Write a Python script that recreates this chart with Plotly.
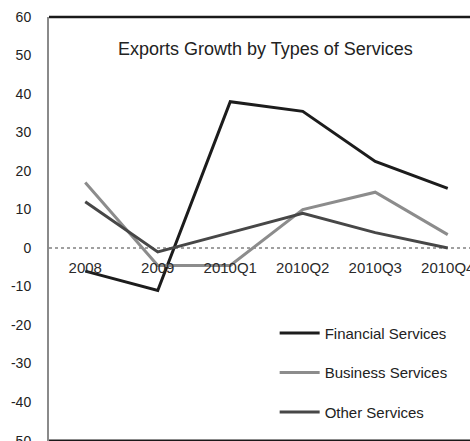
import plotly.graph_objects as go

# Period labels and growth rates (%) per service type
periods = ["2008", "2009", "2010Q1", "2010Q2", "2010Q3", "2010Q4"]
financial = [-6, -11, 38, 35.5, 22.5, 15.5]
business = [17, -4.5, -4.5, 10, 14.5, 3.5]
other = [12, -1, 4, 9, 4, 0]

y_ticks = [60, 50, 40, 30, 20, 10, 0, -10, -20, -30, -40, -50]
y_tick_text = [str(v) for v in y_ticks]  # plain hyphen for negatives
y_min, y_max = -50.1, 60

fig = go.Figure()
series = [
    ("Financial Services", financial, "#1c1c1c"),
    ("Business Services", business, "#8c8c8c"),
    ("Other Services", other, "#474747"),
]
for i, (name, vals, col) in enumerate(series):
    fig.add_trace(go.Scatter(
        x=periods, y=vals, name=name, mode="lines",
        line=dict(color=col, width=3),
        legendgroup=f"g{i}",
    ))

zero_frac = (0 - y_min) / (y_max - y_min)

fig.update_layout(
    width=470, height=441,
    margin=dict(l=49, r=0, t=17, b=0, autoexpand=False),
    paper_bgcolor="white", plot_bgcolor="white",
    font=dict(family="Liberation Sans, Arial, sans-serif", color="#2a2a2a"),
    showlegend=True,
    legend=dict(
        x=0.536, y=0.293, xanchor="left", yanchor="top",
        bgcolor="rgba(0,0,0,0)", font=dict(size=15, color="#222"),
        tracegroupgap=17, itemwidth=40,
    ),
    xaxis=dict(
        type="category", range=[-0.5, 5.307], automargin=False,
        anchor="free", position=zero_frac,
        showline=False, showgrid=False, zeroline=False,
        ticks="", ticklabelstandoff=9,
        tickfont=dict(size=15, color="#2a2a2a"),
    ),
    yaxis=dict(
        range=[y_min, y_max], tickvals=y_ticks, ticktext=y_tick_text,
        automargin=False,
        showgrid=False, zeroline=False,
        showline=True, linecolor="#8a8a8a", linewidth=2,
        ticks="", ticklabelstandoff=13, ticklabeloverflow="allow",
        tickfont=dict(size=14, color="#222"),
    ),
    annotations=[dict(
        text="Exports Growth by Types of Services",
        xref="paper", yref="paper", x=0.515, y=0.925,
        xanchor="center", yanchor="middle", showarrow=False,
        font=dict(size=18, color="#222"),
    )],
    shapes=[
        # zero reference line
        dict(type="line", xref="paper", yref="y", x0=0, x1=1, y0=0, y1=0,
             line=dict(color="#a0a0a0", width=2, dash="dot"), layer="below"),
        # top and bottom frame lines
        dict(type="line", xref="paper", yref="paper", x0=0, x1=1, y0=1, y1=1,
             line=dict(color="#1a1a1a", width=2.5)),
        dict(type="line", xref="paper", yref="paper", x0=0, x1=1, y0=0, y1=0,
             line=dict(color="#1a1a1a", width=3)),
    ],
)

fig.write_html("out.html")
